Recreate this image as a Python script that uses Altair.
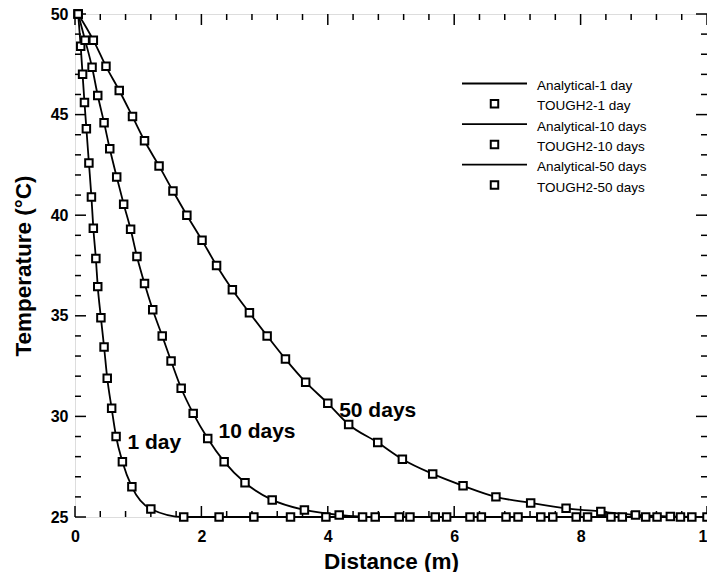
import altair as alt
import pandas as pd

# ---- data ----
x_1day = [0.05, 0.09, 0.12, 0.15, 0.18, 0.22, 0.26, 0.29, 0.33, 0.36, 0.41, 0.46, 0.51, 0.58, 0.65, 0.75, 0.90, 1.20,
          1.72, 2.28, 2.83, 3.41, 3.97, 4.55, 5.13, 5.70, 6.25, 6.82, 7.37, 7.93, 8.48, 9.03, 9.58]
t_1day = [50.0, 48.4, 47.0, 45.6, 44.3, 42.6, 40.9, 39.35, 37.85, 36.45, 34.9, 33.45, 31.9, 30.4, 29.0, 27.75, 26.5, 25.4,
          25.0, 25.0, 25.0, 25.0, 25.0, 25.0, 25.0, 25.0, 25.0, 25.0, 25.0, 25.0, 25.0, 25.0, 25.0]

x_10day = [0.05, 0.16, 0.27, 0.36, 0.46, 0.55, 0.66, 0.77, 0.88, 0.98, 1.10, 1.23, 1.38, 1.52, 1.68, 1.87, 2.10, 2.36,
           2.69, 3.12, 3.63, 4.18, 4.75, 5.30, 5.88, 6.43, 7.01, 7.56, 8.11, 8.66, 9.21, 9.76]
t_10day = [50.0, 48.7, 47.35, 45.95, 44.6, 43.3, 41.9, 40.55, 39.3, 37.95, 36.6, 35.3, 34.0, 32.75, 31.4, 30.15, 28.9, 27.75,
           26.7, 25.85, 25.35, 25.1, 25.0, 25.0, 25.0, 25.0, 25.0, 25.0, 25.0, 25.0, 25.0, 25.0]

x_50day = [0.05, 0.29, 0.49, 0.70, 0.91, 1.10, 1.33, 1.55, 1.77, 2.01, 2.24, 2.49, 2.76, 3.04, 3.33, 3.65, 4.00, 4.33,
           4.79, 5.18, 5.66, 6.14, 6.66, 7.21, 7.77, 8.32, 8.87, 9.42, 10.0]
t_50day = [50.0, 48.7, 47.4, 46.2, 44.9, 43.7, 42.45, 41.2, 40.0, 38.75, 37.5, 36.3, 35.15, 34.0, 32.85, 31.7, 30.65, 29.6,
           28.7, 27.87, 27.14, 26.55, 26.0, 25.7, 25.43, 25.27, 25.1, 25.03, 25.0]

series_names = ["Analytical-1 day", "TOUGH2-1 day", "Analytical-10 days", "TOUGH2-10 days",
                "Analytical-50 days", "TOUGH2-50 days"]
series_kinds = ["Analytical", "TOUGH2", "Analytical", "TOUGH2", "Analytical", "TOUGH2"]

curve_labels = ["1 day", "10 days", "50 days"]
curve_label_x = [0.83, 2.27, 4.18]
curve_label_t = [28.7, 29.2, 30.25]

x_major = [0, 2, 4, 6, 8, 10]
x_minor = [0.4, 0.8, 1.2, 1.6, 2.4, 2.8, 3.2, 3.6, 4.4, 4.8, 5.2, 5.6, 6.4, 6.8, 7.2, 7.6, 8.4, 8.8, 9.2, 9.6]
y_major = [25, 30, 35, 40, 45, 50]
y_minor = [26, 27, 28, 29, 31, 32, 33, 34, 36, 37, 38, 39, 41, 42, 43, 44, 46, 47, 48, 49]

# ---- build tables ----
rows = []
for a_name, t_name, xs, ts in [
    (series_names[0], series_names[1], x_1day, t_1day),
    (series_names[2], series_names[3], x_10day, t_10day),
    (series_names[4], series_names[5], x_50day, t_50day),
]:
    for xv, tv in zip(xs, ts):
        rows.append({"x": xv, "t": tv, "series": a_name, "kind": "Analytical"})
        rows.append({"x": xv, "t": tv, "series": t_name, "kind": "TOUGH2"})
df = pd.DataFrame(rows)

lab_df = pd.DataFrame({"x": curve_label_x, "t": curve_label_t, "label": curve_labels})

W, H = 632, 503
FONT = "Liberation Sans"

xscale = alt.Scale(domain=[0, 10], nice=False, padding=0)
yscale = alt.Scale(domain=[25, 50], nice=False, zero=False, padding=0)

lines = alt.Chart(df).transform_filter(alt.datum.kind == "Analytical").mark_line(
    color="black", strokeWidth=1.8, interpolate="monotone"
).encode(
    x=alt.X("x:Q", scale=xscale, title="Distance (m)",
            axis=alt.Axis(values=x_major, format="d", grid=False, domain=False, ticks=False, tickSize=0,
                          labelFlush=False, labelOverlap=False,
                          labelFont=FONT, labelFontSize=16, labelFontWeight="bold", labelColor="black",
                          labelPadding=11, titleFont=FONT, titleFontSize=22.5, titleFontWeight="bold",
                          titleColor="black", titleY=51, titleBaseline="alphabetic")),
    y=alt.Y("t:Q", scale=yscale, title="Temperature (°C)",
            axis=alt.Axis(values=y_major, format="d", grid=False, domain=False, ticks=False, tickSize=0,
                          labelFlush=False, labelOverlap=False,
                          labelFont=FONT, labelFontSize=16, labelFontWeight="bold", labelColor="black",
                          labelPadding=7, titleFont=FONT, titleFontSize=22.5, titleFontWeight="bold",
                          titleColor="black", titleX=-45, titleBaseline="alphabetic")),
    detail="series:N",
)

points = alt.Chart(df).transform_filter(alt.datum.kind == "TOUGH2").mark_point(
    shape="square", filled=False, fill="white", stroke="black", strokeWidth=2, size=56, opacity=1
).encode(
    x=alt.X("x:Q", scale=xscale),
    y=alt.Y("t:Q", scale=yscale),
    detail="series:N",
)

texts = alt.Chart(lab_df).mark_text(
    align="left", baseline="middle", font=FONT, fontSize=21, fontWeight="bold", color="black"
).encode(x=alt.X("x:Q", scale=xscale), y=alt.Y("t:Q", scale=yscale), text="label:N")


def xticks(vals, L):
    d = pd.DataFrame({"x": vals})
    b = alt.Chart(d).mark_rule(color="black", strokeWidth=1.5).encode(
        x=alt.X("x:Q", scale=xscale), y=alt.value(H), y2=alt.value(H - L))
    t = alt.Chart(d).mark_rule(color="black", strokeWidth=1.5).encode(
        x=alt.X("x:Q", scale=xscale), y=alt.value(0), y2=alt.value(L))
    return [b, t]


def yticks(vals, L):
    d = pd.DataFrame({"t": vals})
    l = alt.Chart(d).mark_rule(color="black", strokeWidth=1.5).encode(
        y=alt.Y("t:Q", scale=yscale), x=alt.value(0), x2=alt.value(L))
    r = alt.Chart(d).mark_rule(color="black", strokeWidth=1.5).encode(
        y=alt.Y("t:Q", scale=yscale), x=alt.value(W), x2=alt.value(W - L))
    return [l, r]


tick_layers = xticks(x_major, 11) + xticks(x_minor, 6) + yticks(y_major, 11) + yticks(y_minor, 6)

# ---- legend drawn inside the plot (top right) ----
LEG_X0, LEG_X1 = 387, 452          # line sample extent (px within plot)
LEG_SYM = 419.5                    # square sample centre
LEG_TEXT = 462                     # label start
LEG_Y0, LEG_DY = 69.5, 20.3        # first row, row spacing
legend_layers = []
for i, (name, kind) in enumerate(zip(series_names, series_kinds)):
    yrow = LEG_Y0 + LEG_DY * i
    one = pd.DataFrame({"label": [name]})
    if kind == "Analytical":
        legend_layers.append(alt.Chart(one).mark_rule(color="black", strokeWidth=1.8).encode(
            x=alt.value(LEG_X0), x2=alt.value(LEG_X1), y=alt.value(yrow)))
    else:
        legend_layers.append(alt.Chart(one).mark_point(
            shape="square", filled=False, fill="white", stroke="black", strokeWidth=2, size=56, opacity=1
        ).encode(x=alt.value(LEG_SYM), y=alt.value(yrow)))
    legend_layers.append(alt.Chart(one).mark_text(
        align="left", baseline="middle", font=FONT, fontSize=13.5, color="black"
    ).encode(x=alt.value(LEG_TEXT), y=alt.value(yrow + 2.5), text="label:N"))

chart = alt.layer(*tick_layers, lines, points, texts, *legend_layers).properties(
    width=W, height=H,
    autosize=alt.AutoSizeParams(type="none"),
    padding={"left": 67, "top": 6, "right": 0, "bottom": 55},
).configure_view(stroke="black", strokeWidth=2).configure(background="white")

chart.save("out.html", embed_options={"renderer": "svg", "actions": False})
